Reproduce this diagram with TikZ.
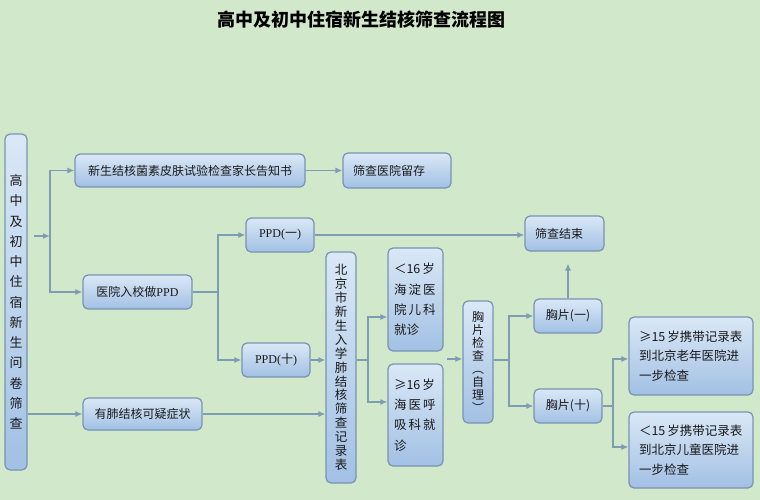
\documentclass[tikz,border=0pt]{standalone}
\usepackage{fontspec}
\setmainfont{Noto Sans CJK SC}
\newfontfamily\latinserif{Liberation Serif}
\usetikzlibrary{arrows.meta,calc}

\definecolor{bg}{RGB}{210,232,202}
\definecolor{boxtop}{RGB}{218,232,246}
\definecolor{boxbot}{RGB}{162,192,228}
\definecolor{boxline}{RGB}{120,148,178}
\definecolor{conn}{RGB}{126,156,180}
\definecolor{txt}{RGB}{25,25,25}

\tikzset{
 fbox/.style={draw=boxline, line width=1.2pt, rounded corners=5pt, top color=boxtop, bottom color=boxbot, inner sep=0pt, text=txt, font=\fontsize{12}{14}\selectfont, align=center},
 arr/.style={draw=conn, line width=1.3pt, -{Latex[length=7pt,width=6pt]}},
 ln/.style={draw=conn, line width=1.3pt},
}

\begin{document}
\begin{tikzpicture}[x=1pt,y=-1pt]
\fill[bg] (0,0) rectangle (760,500);
\useasboundingbox (0,0) rectangle (760,500);

\node[font=\fontsize{18}{20}\selectfont\bfseries, text=black] (T) at (361.5,20) {高中及初中住宿新生结核筛查流程图};

\node[fbox, minimum width=22pt, minimum height=336pt, font=\fontsize{13}{20.25}\selectfont] (L) at (16,302) {高\\中\\及\\初\\中\\住\\宿\\新\\生\\问\\卷\\筛\\查};

\node[fbox, minimum width=230pt, minimum height=33pt] (A) at (190,170.5) {新生结核菌素皮肤试验检查家长告知书};
\node[fbox, minimum width=108pt, minimum height=35pt, text width=88pt, align=left] (B) at (397,170.5) {筛查医院留存};
\node[fbox, minimum width=109pt, minimum height=34pt] (C) at (137.5,292) {医院入校做{\latinserif PPD}};
\node[fbox, minimum width=119pt, minimum height=32pt] (D) at (142.5,414) {有肺结核可疑症状};
\node[fbox, minimum width=68pt, minimum height=34pt] (E) at (280,235) {{\latinserif PPD(}一{\latinserif )}};
\node[fbox, minimum width=68pt, minimum height=34pt] (F) at (276,360) {{\latinserif PPD(}十{\latinserif )}};
\node[fbox, minimum width=30pt, minimum height=231pt, font=\fontsize{12.5}{13.9}\selectfont] (G) at (341,367.5) {北\\京\\市\\新\\生\\入\\学\\肺\\结\\核\\筛\\查\\记\\录\\表};
\node[fbox, minimum width=55pt, minimum height=103pt, text width=43pt, align=left, font=\fontsize{12.5}{20.3}\selectfont] (H) at (415.5,299.5) {＜16\,岁\\海\,淀\,医\\院\,儿\,科\\就诊};
\node[fbox, minimum width=55pt, minimum height=102pt, text width=43pt, align=left, font=\fontsize{12.5}{20.3}\selectfont] (I) at (415.5,415) {≥16\,岁\\海\,医\,呼\\吸\,科\,就\\诊};
\node[fbox, minimum width=79pt, minimum height=35pt, text width=59pt, align=left] (J) at (564.5,233.5) {筛查结束};
\node[fbox, minimum width=30pt, minimum height=122pt, font=\fontsize{12}{12.9}\selectfont] (K) at (478,362) {胸\\片\\检\\查\\︵\\自\\理\\︶};
\node[fbox, minimum width=68pt, minimum height=34pt] (M) at (568,316) {胸片(一)};
\node[fbox, minimum width=68pt, minimum height=34pt] (N) at (568,406) {胸片(十)};
\node[fbox, minimum width=124pt, minimum height=78pt, text width=104pt, align=left, font=\fontsize{12.5}{19.5}\selectfont] (P) at (691,356) {\mbox{≥15\,岁携带记录表}\\到北京老年医院进\\一步检查};
\node[fbox, minimum width=124pt, minimum height=76pt, text width=104pt, align=left, font=\fontsize{12.5}{19.5}\selectfont] (Q) at (691,450) {\mbox{＜15\,岁携带记录表}\\到北京儿童医院进\\一步检查};

% connectors
\coordinate (b1) at (50,236);
\draw[arr] ([xshift=6pt]L.east |- b1) -- (b1);
\draw[arr] (b1) |- (A.west);
\draw[arr] (b1) |- (C.west);
\draw[arr] (L.east |- D.west) -- (D.west);
\draw[arr] (A.east) -- (B.west);

\coordinate (b2) at (218,292);
\draw[ln] (C.east) -- (b2);
\draw[arr] (b2) |- (E.west);
\draw[arr] (b2) |- (F.west);
\draw[arr] (E.east) -- (E.east -| J.west);
\draw[arr] (F.east) -- (F.east -| G.west);
\draw[arr] (D.east) -- (D.east -| G.west);

\coordinate (b3) at (368,360);
\draw[ln] (G.east |- b3) -- (b3);
\draw[arr] (b3) |- ([yshift=-17.5pt]H.west);
\draw[arr] (b3) |- ([yshift=13pt]I.west);

\coordinate (c4) at (447,359);
\draw[arr] (c4) -- (c4 -| K.west);

\coordinate (b4) at (509,360);
\draw[ln] (K.east |- b4) -- (b4);
\draw[arr] (b4) |- (M.west);
\draw[arr] (b4) |- (N.west);
\draw[arr, shorten >=12pt] (M.north) -- (M.north |- J.south);

\coordinate (b5) at (613,406);
\draw[ln] (N.east) -- (b5);
\draw[arr] (b5) |- ([yshift=-3pt]P.west);
\draw[arr] (b5) |- ([yshift=3pt]Q.west);
\end{tikzpicture}
\end{document}
